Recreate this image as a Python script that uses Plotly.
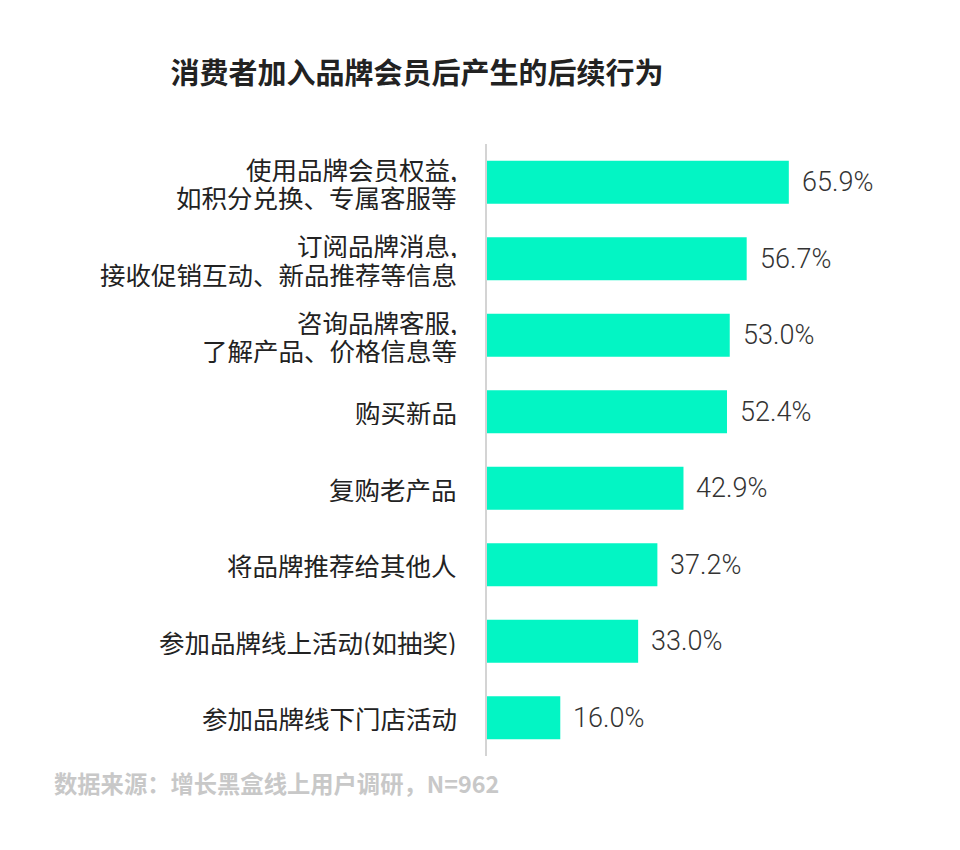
import plotly.graph_objects as go

categories = [
    "使用品牌会员权益,<br>如积分兑换、专属客服等",
    "订阅品牌消息,<br>接收促销互动、新品推荐等信息",
    "咨询品牌客服,<br>了解产品、价格信息等",
    "购买新品",
    "复购老产品",
    "将品牌推荐给其他人",
    "参加品牌线上活动(如抽奖)",
    "参加品牌线下门店活动",
]
values = [65.9, 56.7, 53.0, 52.4, 42.9, 37.2, 33.0, 16.0]
title_text = "消费者加入品牌会员后产生的后续行为"
source_text = "数据来源：增长黑盒线上用户调研，N=962"

BAR_COLOR = "#03F5C4"
CJK = "Noto Sans CJK SC"
LABEL_SIZE = 25.5
LINE_GAP = 28.5

fig = go.Figure()
fig.add_trace(go.Bar(
    x=values,
    y=categories,
    orientation="h",
    marker=dict(color=BAR_COLOR, line=dict(width=0)),
    hoverinfo="skip",
))

W, H = 960, 850
L, R, T, B = 487, 15, 144, 94
pw = W - L - R
ph = H - T - B

for c, v in zip(categories, values):
    fig.add_annotation(
        x=v, y=c, xref="x", yref="y",
        text=f"{v:.1f}%",
        showarrow=False, xanchor="left", yanchor="middle",
        xshift=11,
        font=dict(family="Roboto", size=27, color="#333333", weight=300),
    )
    lines = c.split("<br>")
    n = len(lines)
    for i, ln in enumerate(lines):
        offset = (i - (n - 1) / 2) * LINE_GAP
        fig.add_annotation(
            x=0, y=c, xref="paper", yref="y",
            text=ln, showarrow=False, xanchor="right", yanchor="middle",
            xshift=-28, yshift=-offset, height=27, valign="middle",
            font=dict(family=CJK, size=LABEL_SIZE, color="#222222"),
        )

fig.add_annotation(
    x=(52 - L) / pw, y=-(783 - (H - B)) / ph, xref="paper", yref="paper",
    text=source_text, showarrow=False, xanchor="left", yanchor="middle",
    font=dict(family=CJK, size=23.3, color="#c8c8c8", weight="bold"),
)

fig.update_layout(
    width=W, height=H,
    margin=dict(l=L, r=R, t=T, b=B, pad=0),
    paper_bgcolor="white", plot_bgcolor="white",
    showlegend=False,
    bargap=0.44,
    title=dict(
        text=title_text, x=417 / W, xref="container", xanchor="center",
        y=1 - 74 / H, yref="container", yanchor="middle",
        font=dict(family=CJK, size=29, color="#222222", weight="bold"),
    ),
    xaxis=dict(range=[0, 100], visible=False, fixedrange=True),
    yaxis=dict(
        categoryorder="array", categoryarray=categories,
        autorange="reversed",
        showline=True, linecolor="#d4d4d4", linewidth=2,
        showgrid=False, zeroline=False, ticks="",
        showticklabels=False,
    ),
)

fig.write_html("out.html")
